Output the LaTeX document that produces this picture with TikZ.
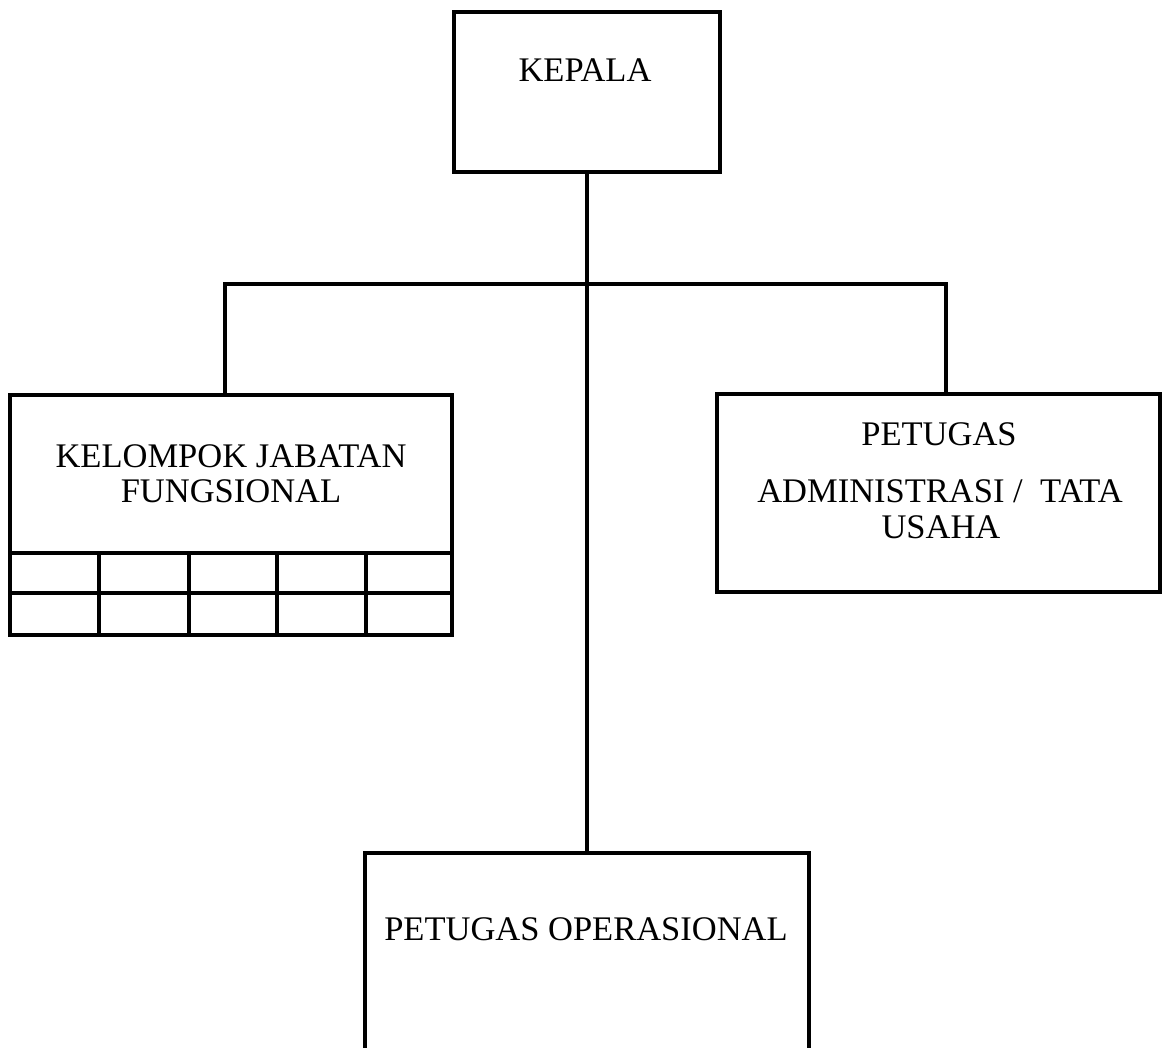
\documentclass[tikz,border=0pt]{standalone}
\usepackage{fontspec}
\setmainfont{Liberation Serif}
\begin{document}
\begin{tikzpicture}[x=1pt,y=-1pt,
  box/.style={draw=black,line width=3.5pt,inner sep=0pt,outer sep=0pt,fill=none},
  lbl/.style={inner sep=0pt,outer sep=0pt,anchor=base,font=\fontsize{34.5}{36}\selectfont},
  conn/.style={draw=black,line width=3.5pt}]
\useasboundingbox (0,0) rectangle (1162,1048);
\clip (0,0) rectangle (1162,1048);
\fill[white] (0,0) rectangle (1162,1048);
% boxes
\node[box,minimum width=266pt,minimum height=160pt] (kepala) at (587,92) {};
\node[box,minimum width=442pt,minimum height=240pt] (jf) at (231,515) {};
\node[box,minimum width=443pt,minimum height=198pt] (adm) at (938.5,493) {};
\node[box,minimum width=444pt,minimum height=207pt] (ops) at (587,956.5) {};
% grid of the functional group box
\draw[line width=3.5pt] (jf.west |- 0,553) -- (jf.east |- 0,553);
\draw[line width=3.5pt] (jf.west |- 0,593) -- (jf.east |- 0,593);
\foreach \gx in {99,189,277,366}{\draw[line width=3.5pt] (\gx,553) -- (\gx,635);}
% texts
\node[lbl] (tkepala) at (585,82) {KEPALA};
\node[lbl] (tjf1) at (231,467) {KELOMPOK JABATAN};
\node[lbl] (tjf2) at (231,502) {FUNGSIONAL};
\node[lbl] (tadm1) at (939,445) {PETUGAS};
\node[lbl] (tadm2) at (940,502) {ADMINISTRASI /\ \ TATA};
\node[lbl] (tadm3) at (941,538) {USAHA};
\node[lbl] (tops) at (586,940) {PETUGAS OPERASIONAL};
% connectors
\coordinate (bl) at (225,284);
\coordinate (br) at (946,284);
\draw[conn] (kepala.south) -- (ops.north);
\draw[conn,line cap=rect] (bl) -- (br);
\draw[conn] (bl) -- (bl |- jf.north);
\draw[conn] (br) -- (br |- adm.north);
\end{tikzpicture}
\end{document}
